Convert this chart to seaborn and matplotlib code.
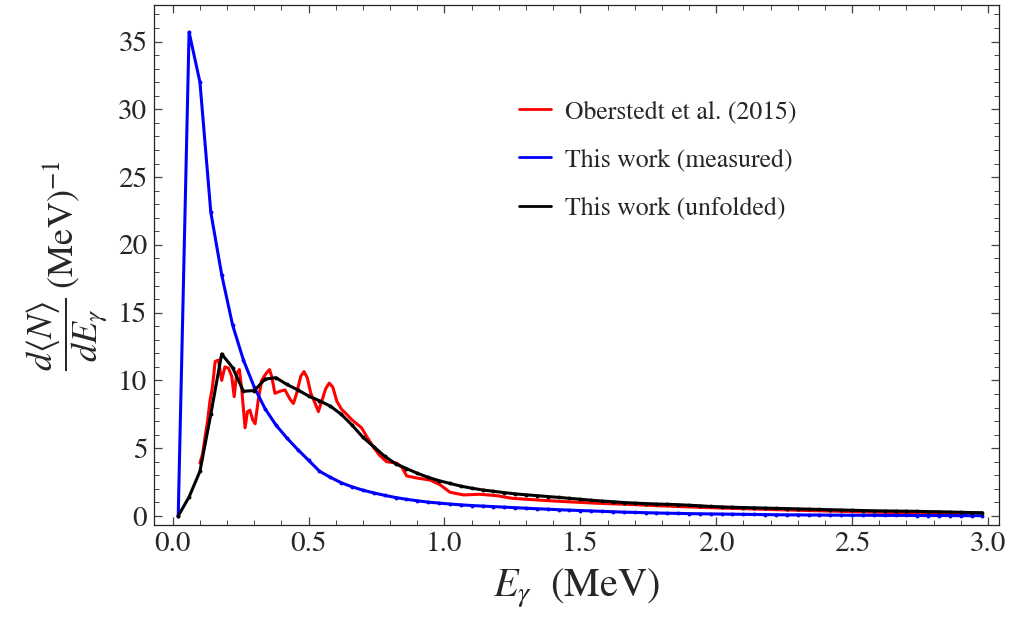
import numpy as np
import pandas as pd
import matplotlib
matplotlib.use("Agg")
import matplotlib.pyplot as plt
from matplotlib.ticker import MultipleLocator
import seaborn as sns

# ---------------- data ----------------
energy_bins = [0.02, 0.06, 0.10, 0.14, 0.18, 0.22, 0.26, 0.30, 0.34, 0.38,
               0.42, 0.46, 0.50, 0.54, 0.58, 0.62, 0.66, 0.70, 0.74, 0.78,
               0.82, 0.86, 0.90, 0.94, 0.98, 1.02, 1.06, 1.10, 1.14, 1.18,
               1.22, 1.26, 1.30, 1.34, 1.38, 1.42, 1.46, 1.50, 1.54, 1.58,
               1.62, 1.66, 1.70, 1.74, 1.78, 1.82, 1.86, 1.90, 1.94, 1.98,
               2.02, 2.06, 2.10, 2.14, 2.18, 2.22, 2.26, 2.30, 2.34, 2.38,
               2.42, 2.46, 2.50, 2.54, 2.58, 2.62, 2.66, 2.70, 2.74, 2.78,
               2.82, 2.86, 2.90, 2.94, 2.98]

measured = [0.0, 35.7, 32.0, 22.4, 17.8, 14.1, 11.5, 9.5, 7.9, 6.7,
            5.75, 4.9, 4.1, 3.3, 2.85, 2.45, 2.15, 1.9, 1.7, 1.52,
            1.36, 1.23, 1.12, 1.02, 0.95, 0.88, 0.82, 0.77, 0.73, 0.69,
            0.65, 0.61, 0.57, 0.53, 0.50, 0.46, 0.43, 0.40, 0.37, 0.34,
            0.31, 0.28, 0.26, 0.24, 0.22, 0.20, 0.19, 0.17, 0.16, 0.15,
            0.14, 0.13, 0.12, 0.11, 0.10, 0.09, 0.08, 0.08, 0.07, 0.07,
            0.06, 0.06, 0.05, 0.05, 0.05, 0.04, 0.04, 0.04, 0.03, 0.03,
            0.03, 0.03, 0.02, 0.02, 0.02]

unfolded = [0.0, 1.4, 3.3, 7.5, 11.95, 10.95, 9.2, 9.25, 10.1, 10.2,
            9.7, 9.3, 8.85, 8.5, 8.1, 7.5, 6.7, 5.8, 5.1, 4.4,
            3.85, 3.5, 3.15, 2.85, 2.6, 2.4, 2.2, 2.05, 1.92, 1.82,
            1.72, 1.63, 1.56, 1.5, 1.43, 1.37, 1.3, 1.23, 1.16, 1.1,
            1.05, 0.99, 0.95, 0.91, 0.88, 0.86, 0.83, 0.79, 0.75, 0.70,
            0.67, 0.64, 0.62, 0.60, 0.58, 0.56, 0.54, 0.52, 0.50, 0.48,
            0.46, 0.44, 0.42, 0.40, 0.38, 0.37, 0.36, 0.35, 0.34, 0.32,
            0.31, 0.29, 0.27, 0.25, 0.24]

oberstedt_E = [0.100, 0.110, 0.119, 0.128, 0.137, 0.146, 0.156, 0.168, 0.180, 0.192,
               0.205, 0.217, 0.226, 0.235, 0.245, 0.254, 0.266, 0.275, 0.284, 0.294,
               0.303, 0.315, 0.327, 0.343, 0.356, 0.364, 0.376, 0.395, 0.413, 0.432,
               0.444, 0.456, 0.471, 0.483, 0.495, 0.508, 0.524, 0.536, 0.548, 0.563,
               0.576, 0.589, 0.604, 0.622, 0.640, 0.659, 0.677, 0.695, 0.714, 0.738,
               0.760, 0.787, 0.824, 0.843, 0.861, 0.898, 0.947, 0.984, 1.02, 1.07,
               1.13, 1.19, 1.25, 1.34, 1.44, 1.56, 1.68, 1.80, 1.92, 2.04,
               2.16, 2.28, 2.40, 2.52, 2.64, 2.76, 2.92]
oberstedt_y = [3.9, 4.6, 5.85, 7.0, 8.5, 9.5, 11.4, 11.5, 10.0, 11.0,
               10.9, 10.3, 8.8, 10.5, 10.8, 9.3, 6.5, 7.7, 7.8, 7.1,
               6.8, 8.6, 10.0, 10.5, 10.8, 10.3, 9.05, 9.2, 9.3, 8.6,
               8.3, 9.05, 10.3, 10.65, 10.2, 9.05, 8.3, 7.7, 8.45, 9.4,
               9.8, 9.5, 8.45, 7.85, 7.5, 7.1, 6.8, 6.5, 5.85, 5.1,
               4.5, 4.0, 3.9, 3.6, 2.95, 2.8, 2.65, 2.3, 1.75, 1.55,
               1.6, 1.5, 1.3, 1.18, 1.06, 0.94, 0.85, 0.74, 0.65, 0.57,
               0.50, 0.43, 0.37, 0.31, 0.26, 0.21, 0.14]

labels = ["Oberstedt et al. (2015)", "This work (measured)", "This work (unfolded)"]
colors = ["#ff0000", "#0000ff", "#000000"]

# ---------------- style ----------------
sns.set_style("white")
plt.rcParams["font.family"] = ["STIXGeneral", "DejaVu Serif"]
plt.rcParams["mathtext.fontset"] = "stix"

fig = plt.figure(figsize=(10.10, 6.19), dpi=100)
ax = fig.add_axes([154.3 / 1010, 1 - 525.3 / 619, (999.3 - 154.3) / 1010, (525.3 - 5) / 619])

df_red = pd.DataFrame({"E": oberstedt_E, "y": oberstedt_y})
df_blue = pd.DataFrame({"E": energy_bins, "y": measured})
df_black = pd.DataFrame({"E": energy_bins, "y": unfolded})

sns.lineplot(data=df_red, x="E", y="y", ax=ax, color=colors[0], lw=2.2,
             sort=False, estimator=None, label=labels[0])
sns.lineplot(data=df_blue, x="E", y="y", ax=ax, color=colors[1], lw=2.2,
             sort=False, estimator=None, label=labels[1],
             marker="o", markersize=2.8, markeredgewidth=0)
sns.lineplot(data=df_black, x="E", y="y", ax=ax, color=colors[2], lw=2.2,
             sort=False, estimator=None, label=labels[2],
             marker="o", markersize=2.8, markeredgewidth=0)

ax.set_xlim(-0.068, 3.042)
ax.set_ylim(-0.69, 37.7)
ax.xaxis.set_major_locator(MultipleLocator(0.5))
ax.xaxis.set_minor_locator(MultipleLocator(0.1))
ax.yaxis.set_major_locator(MultipleLocator(5))
ax.yaxis.set_minor_locator(MultipleLocator(1))
ax.xaxis.set_major_formatter(matplotlib.ticker.FormatStrFormatter("%.1f"))
ax.yaxis.set_major_formatter(matplotlib.ticker.FormatStrFormatter("%d"))

ax.tick_params(which="both", direction="in", top=True, right=True,
               bottom=True, left=True, color="#444444", labelsize=21, pad=5)
ax.tick_params(which="major", length=6, width=0.9)
ax.tick_params(which="minor", length=3.5, width=0.7)
for s in ax.spines.values():
    s.set_color("#222222")
    s.set_linewidth(0.9)

ax.set_xlabel(r"$E_{\gamma}\ \ \mathrm{(MeV)}$", fontsize=29, labelpad=6)
ax.set_ylabel(r"$\dfrac{d\langle N\rangle}{dE_{\gamma}}\;\mathrm{(MeV)}^{-1}$",
              fontsize=26, labelpad=6)

leg = ax.legend(loc="upper left", bbox_to_anchor=(519 / 1010, 1 - 100 / 619),
                bbox_transform=fig.transFigure, frameon=False, fontsize=18.5,
                handlelength=1.25, handletextpad=0.55, labelspacing=0.95,
                borderpad=0, borderaxespad=0)
for h in leg.get_lines():
    h.set_linewidth(2.0)
    h.set_marker("")

fig.savefig("out.png", dpi=100)
